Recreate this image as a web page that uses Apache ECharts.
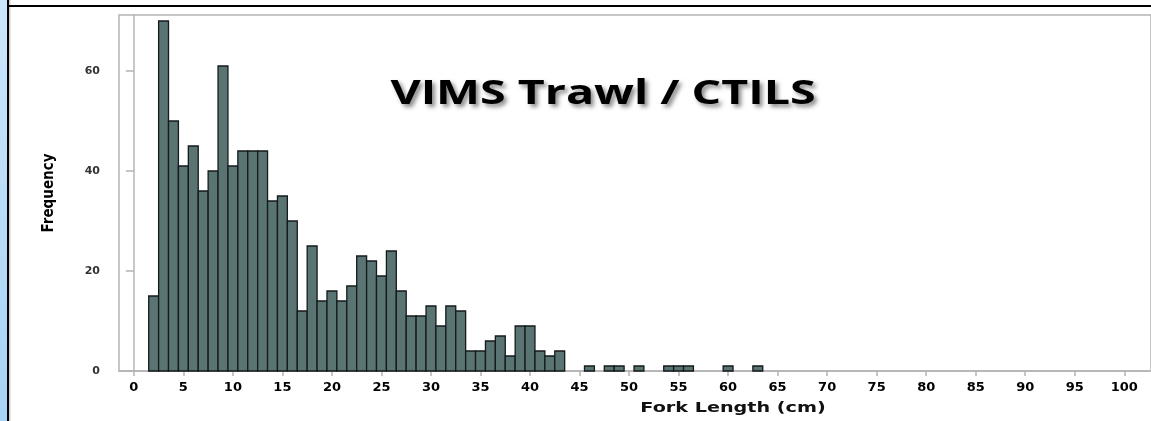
<!DOCTYPE html>
<html>
<head>
<meta charset="utf-8">
<title>VIMS Trawl / CTILS</title>
<script src="https://cdn.jsdelivr.net/npm/echarts@6/dist/echarts.min.js"></script>
<style>
body {
  margin: 0px;
  padding: 0px;
  background: #fff;
}
#chart {
  width: 1151px;
  height: 421px;
}
</style>
</head>
<body>
<div id="chart"></div>
<script>
// bin centres (cm), 1 cm bins
let lengths = [2, 3, 4, 5, 6, 7, 8, 9, 10, 11, 12, 13, 14, 15, 16, 17, 18, 19, 20,
  21, 22, 23, 24, 25, 26, 27, 28, 29, 30, 31, 32, 33, 34, 35, 36, 37, 38, 39, 40,
  41, 42, 43, 46, 48, 49, 51, 54, 55, 56, 60, 63];
let counts = [15, 70, 50, 41, 45, 36, 40, 61, 41, 44, 44, 44, 34, 35, 30, 12, 25, 14, 16,
  14, 17, 23, 22, 19, 24, 16, 11, 11, 13, 9, 13, 12, 4, 4, 6, 7, 3, 9, 9,
  4, 3, 4, 1, 1, 1, 1, 1, 1, 1, 1, 1];
let xTicks = [0, 5, 10, 15, 20, 25, 30, 35, 40, 45, 50, 55, 60, 65, 70, 75, 80, 85, 90, 95, 100];
let yTicks = [0, 20, 40, 60];

let chartTitle = "VIMS Trawl / CTILS";
let xName = "Fork Length (cm)";
let yName = "Frequency";

let barData = lengths.map((v, i) => [v, counts[i]]);

let axisGray = "#b4b4b4";

let option = {
  backgroundColor: "#fff",
  animation: false,
  grid: {
    left: 119,
    top: 15,
    right: -5,
    bottom: 50,
    show: true,
    borderColor: axisGray,
    borderWidth: 1.5,
  },
  xAxis: {
    type: "value",
    min: -1.5,
    max: 102.7,
    splitLine: { show: false },
    axisLine: { lineStyle: { color: axisGray, width: 1.5 } },
    axisTick: {
      length: 5,
      customValues: xTicks,
      lineStyle: { color: axisGray, width: 1.5 },
    },
    axisLabel: {
      customValues: xTicks,
      margin: 10,
      color: "#000",
      fontFamily: "DejaVu Sans",
      fontWeight: "bold",
      fontSize: 13,
    },
  },
  yAxis: {
    type: "value",
    min: 0,
    max: 71.2,
    name: yName,
    nameLocation: "middle",
    nameRotate: 90,
    nameGap: 62,
    nameTextStyle: {
      fontFamily: "'Liberation Sans Narrow', 'DejaVu Sans Condensed', sans-serif",
      fontWeight: "bold",
      fontSize: 15,
      color: "#000",
    },
    splitLine: { show: false },
    axisLine: { show: true, lineStyle: { color: axisGray, width: 1.5 } },
    axisTick: {
      show: true,
      length: 8,
      customValues: yTicks,
      lineStyle: { color: axisGray, width: 1.5 },
    },
    axisLabel: {
      customValues: yTicks,
      margin: 19,
      color: "#333",
      fontFamily: "DejaVu Sans",
      fontWeight: "bold",
      fontSize: 11,
    },
  },
  series: [
    {
      type: "custom",
      data: barData,
      renderItem: function (params, api) {
        let x = api.value(0);
        let y = api.value(1);
        let p0 = api.coord([x - 0.5, y]);
        let p1 = api.coord([x + 0.5, 0]);
        return {
          type: "rect",
          shape: { x: p0[0], y: p0[1], width: p1[0] - p0[0], height: p1[1] - p0[1] },
          style: { fill: "#5a7373", stroke: "#151a1a", lineWidth: 1.3 },
        };
      },
    },
  ],
  graphic: [
    // light blue strip and black frame lines on the slide
    {
      type: "rect",
      x: 0,
      y: 0,
      shape: { width: 7.5, height: 421 },
      style: {
        fill: new echarts.graphic.LinearGradient(0, 0, 0, 1, [
          { offset: 0, color: "#cbe6fb" },
          { offset: 1, color: "#a6d2f5" },
        ]),
      },
    },
    { type: "rect", x: 7, y: 0, shape: { width: 2, height: 421 }, style: { fill: "#000" } },
    { type: "rect", x: 9, y: 0, shape: { width: 1.5, height: 421 }, style: { fill: "#cfcfcf" } },
    { type: "rect", x: 8, y: 5, shape: { width: 1143, height: 2 }, style: { fill: "#000" } },
    {
      type: "text",
      x: 603,
      y: 94,
      scaleX: 1.37,
      style: {
        text: chartTitle,
        fontFamily: "'Open Sans', sans-serif",
        fontWeight: "bold",
        fontSize: 34,
        fill: "#000",
        align: "center",
        verticalAlign: "middle",
        textShadowColor: "rgba(0,0,0,0.45)",
        textShadowBlur: 4,
        textShadowOffsetX: 3,
        textShadowOffsetY: 3,
      },
    },
    {
      type: "text",
      x: 733,
      y: 408,
      scaleX: 1.37,
      style: {
        text: xName,
        fontFamily: "DejaVu Sans",
        fontWeight: "bold",
        fontSize: 14,
        fill: "#111",
        align: "center",
        verticalAlign: "middle",
      },
    },
  ],
};

let chart = echarts.init(document.querySelector("#chart"));
chart.setOption(option);
</script>
</body>
</html>
